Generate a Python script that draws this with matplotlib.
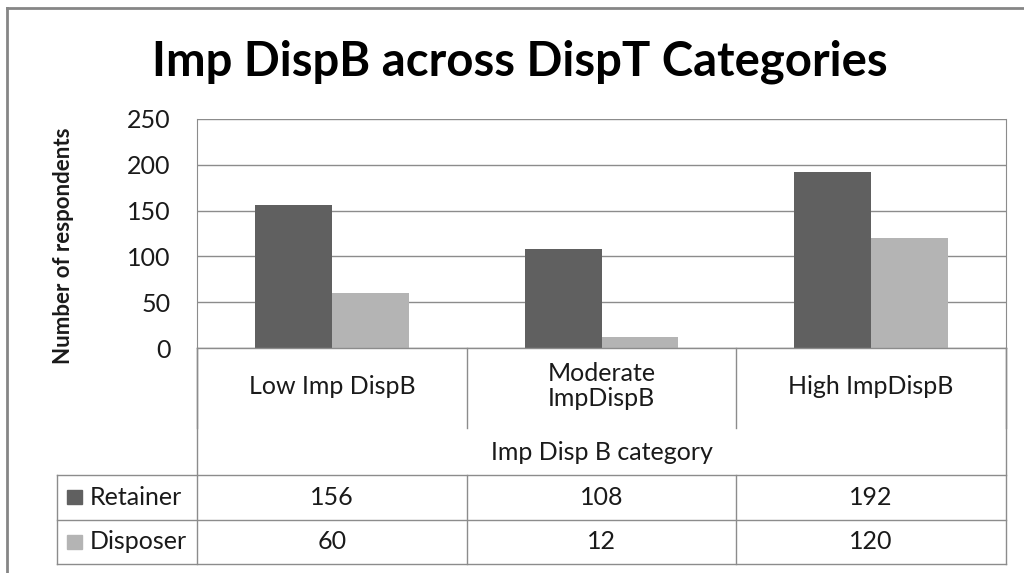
import matplotlib.pyplot as plt
import numpy as np

plt.rcParams['font.family'] = ['Lato', 'DejaVu Sans']

categories = ['Low Imp DispB', 'Moderate\nImpDispB', 'High ImpDispB']
series = ['Retainer', 'Disposer']
retainer = [156, 108, 192]
disposer = [60, 12, 120]
yticks = [0, 50, 100, 150, 200, 250]

dark = '#606060'
light = '#b4b4b4'
line = '#8c8c8c'
txt = '#1a1a1a'

W, H = 1024, 573
fig = plt.figure(figsize=(W / 100, H / 100), dpi=100)

# plot area in pixel terms
px_l, px_r, px_t, px_b = 197, 1006, 119, 348
ax = fig.add_axes([px_l / W, 1 - px_b / H, (px_r - px_l) / W, (px_b - px_t) / H])

x = np.arange(len(categories))
bw = 0.285
ax.bar(x - bw / 2, retainer, bw, color=dark, zorder=3)
ax.bar(x + bw / 2, disposer, bw, color=light, zorder=3)
ax.set_xlim(-0.5, len(categories) - 0.5)
ax.set_ylim(0, 250)
ax.set_yticks(yticks)
ax.set_yticklabels([str(v) for v in yticks], fontsize=18, color=txt)
ax.set_xticks([])
ax.tick_params(axis='y', length=0, pad=19)
ax.grid(axis='y', color=line, linewidth=1, zorder=0)
for s in ['top', 'bottom']:
    ax.spines[s].set_visible(False)
ax.spines['left'].set_color(line)
ax.spines['right'].set_color(line)

# overlay axes in pixel coordinates for the data table and titles
tab_l, tab_b = 57, 564
tx = fig.add_axes([0, 0, 1, 1], facecolor='none')
tx.set_xlim(0, W)
tx.set_ylim(H, 0)
tx.axis('off')

col_w = (px_r - px_l) / len(categories)
cols = [px_l + i * col_w for i in range(len(categories) + 1)]
row_cat = 428
row_title = 475
row_h = (tab_b - row_title) / len(series)
rows = [row_title + i * row_h for i in range(len(series) + 1)]

lk = dict(color=line, linewidth=1)
# category label cells
for c in cols:
    tx.plot([c, c], [px_b, row_cat], **lk)
tx.plot([px_l, px_l], [px_b, tab_b], **lk)
tx.plot([px_r, px_r], [px_b, tab_b], **lk)
tx.plot([px_l, px_r], [px_b, px_b], **lk)
for i, cat in enumerate(categories):
    tx.text((cols[i] + cols[i + 1]) / 2, (px_b + row_cat) / 2 - 2, cat,
            ha='center', va='center', fontsize=18, linespacing=1.15, color=txt)
tx.text((px_l + px_r) / 2, (row_cat + row_title) / 2 + 1, 'Imp Disp B category',
        ha='center', va='center', fontsize=18, color=txt)

# value rows
for r in rows:
    tx.plot([tab_l, px_r], [r, r], **lk)
tx.plot([tab_l, tab_l], [row_title, tab_b], **lk)
for c in cols[1:-1]:
    tx.plot([c, c], [row_title, tab_b], **lk)

vals = [retainer, disposer]
colors = [dark, light]
for j, name in enumerate(series):
    yc = (rows[j] + rows[j + 1]) / 2
    tx.add_patch(plt.Rectangle((tab_l + 10, yc - 7), 15, 14, color=colors[j]))
    tx.text(tab_l + 33, yc, name, ha='left', va='center', fontsize=18, color=txt)
    for i, v in enumerate(vals[j]):
        tx.text((cols[i] + cols[i + 1]) / 2, yc, str(v),
                ha='center', va='center', fontsize=18, color=txt)

# y axis title
tx.text(63, 246, 'Number of respondents', rotation=90, ha='center', va='center',
        fontsize=16, fontweight='bold', color=txt)

# chart outer border and title
tx.plot([7, 7], [8, H], color='#868686', linewidth=2)
tx.plot([7, W], [8, 8], color='#868686', linewidth=2)
tx.text(520, 62, 'Imp DispB across DispT Categories', ha='center', va='center',
        fontsize=34, fontweight='bold', color='black')

fig.savefig('out.png', dpi=100)
